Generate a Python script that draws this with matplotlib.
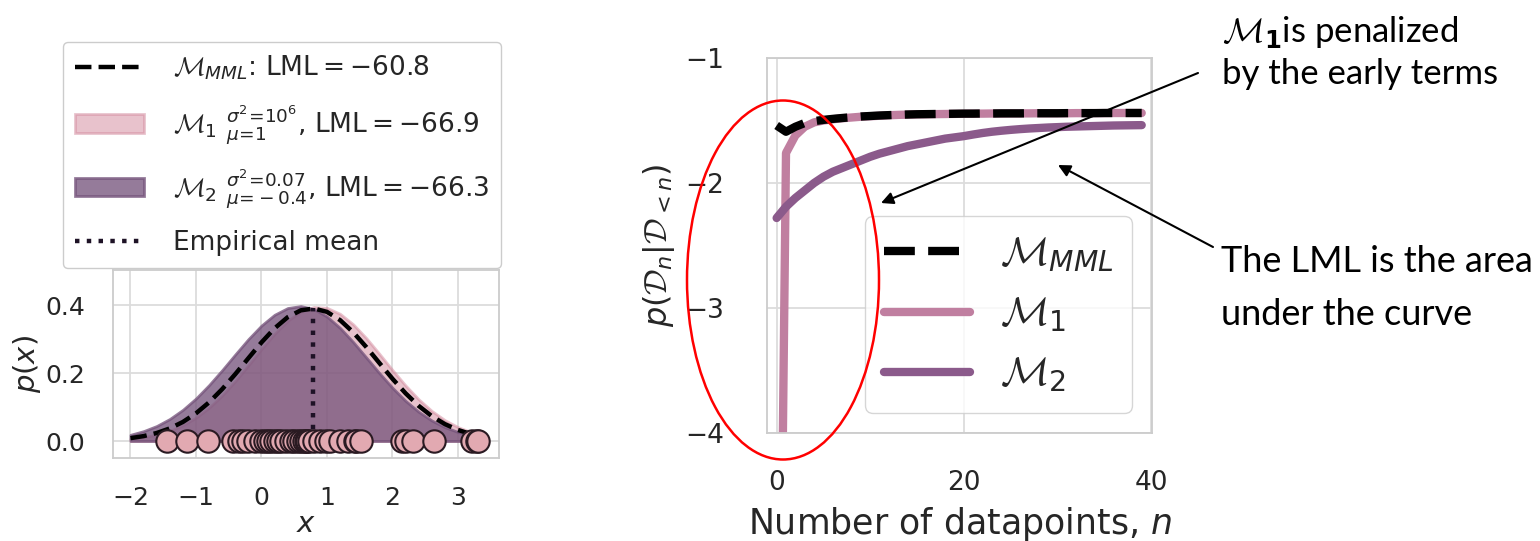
import matplotlib
matplotlib.use("Agg")
import matplotlib.pyplot as plt
from matplotlib.patches import Ellipse, FancyArrowPatch
import numpy as np

# ---------------- data ----------------
x_grid = [-2.0, -1.8, -1.6, -1.4, -1.2, -1.0, -0.8, -0.6, -0.4, -0.2,
          0.0, 0.2, 0.4, 0.6, 0.8, 1.0, 1.2, 1.4, 1.6, 1.8,
          2.0, 2.2, 2.4, 2.6, 2.8, 3.0, 3.2, 3.35]
pdf_mml = [0.0084, 0.0144, 0.0235, 0.0370, 0.0560, 0.0814, 0.1137, 0.1526, 0.1967, 0.2436,
           0.2900, 0.3315, 0.3642, 0.3844, 0.3898, 0.3798, 0.3556, 0.3198, 0.2764, 0.2294,
           0.1830, 0.1403, 0.1033, 0.0731, 0.0497, 0.0324, 0.0204, 0.0140]
pdf_m1 = [0.0064, 0.0112, 0.0187, 0.0300, 0.0464, 0.0688, 0.0980, 0.1341, 0.1763, 0.2229,
          0.2706, 0.3156, 0.3538, 0.3809, 0.3941, 0.3917, 0.3741, 0.3432, 0.3026, 0.2563,
          0.2086, 0.1631, 0.1225, 0.0884, 0.0613, 0.0409, 0.0261, 0.0182]
pdf_m2 = [0.0183, 0.0290, 0.0441, 0.0648, 0.0918, 0.1252, 0.1646, 0.2085, 0.2547, 0.2997,
          0.3398, 0.3714, 0.3911, 0.3969, 0.3882, 0.3659, 0.3324, 0.2909, 0.2454, 0.1995,
          0.1563, 0.1180, 0.0859, 0.0602, 0.0407, 0.0265, 0.0166, 0.0114]
data_x = [-1.45, -1.14, -0.82, -0.43, -0.35, -0.28, -0.2, -0.1, 0.0, 0.05,
          0.1, 0.14, 0.2, 0.25, 0.3, 0.37, 0.45, 0.5, 0.55, 0.6,
          0.65, 0.68, 0.7, 0.72, 0.8, 0.9, 0.98, 1.05, 1.2, 1.32,
          1.42, 1.45, 1.52, 2.14, 2.2, 2.32, 2.63, 3.22, 3.29, 3.3]

n_points = list(range(40))
lpd_mml = [-1.54, -1.59, -1.55, -1.52, -1.505, -1.495, -1.487, -1.48, -1.474, -1.468,
           -1.464, -1.46, -1.457, -1.454, -1.452, -1.45, -1.449, -1.448, -1.447, -1.446,
           -1.445, -1.445, -1.444, -1.444, -1.443, -1.443, -1.443, -1.442, -1.442, -1.442,
           -1.442, -1.441, -1.441, -1.441, -1.441, -1.440, -1.440, -1.440, -1.440, -1.440]
lpd_m1 = [-8.5, -1.76, -1.62, -1.55, -1.515, -1.50, -1.49, -1.482, -1.476, -1.47,
          -1.466, -1.462, -1.458, -1.455, -1.453, -1.451, -1.45, -1.449, -1.448, -1.447,
          -1.446, -1.445, -1.445, -1.444, -1.444, -1.443, -1.443, -1.443, -1.442, -1.442,
          -1.442, -1.442, -1.441, -1.441, -1.441, -1.441, -1.440, -1.440, -1.440, -1.440]
lpd_m2 = [-2.28, -2.19, -2.12, -2.06, -2.00, -1.95, -1.91, -1.88, -1.85, -1.82,
          -1.79, -1.765, -1.745, -1.725, -1.705, -1.69, -1.675, -1.66, -1.645, -1.635,
          -1.625, -1.612, -1.60, -1.59, -1.582, -1.575, -1.569, -1.564, -1.56, -1.556,
          -1.553, -1.55, -1.548, -1.546, -1.544, -1.542, -1.54, -1.539, -1.538, -1.537]

legend_left = [r"$\mathcal{M}_{MML}$: LML$=-$60.8",
               r"$\mathcal{M}_1\ {}^{\sigma^2\!=\!10^6}_{\mu\!=\!1}$, LML$=-$66.9",
               r"$\mathcal{M}_2\ {}^{\sigma^2\!=\!0.07}_{\mu\!=\!-0.4}$, LML$=-$66.3",
               "Empirical mean"]
legend_right = [r"$\mathcal{M}_{MML}$", r"$\mathcal{M}_1$", r"$\mathcal{M}_2$"]

# ---------------- style ----------------
plt.rcParams.update({
    "font.family": ["DejaVu Sans"],
    "mathtext.fontset": "custom",
    "mathtext.rm": "DejaVu Sans",
    "mathtext.it": "DejaVu Sans:italic",
    "mathtext.bf": "DejaVu Sans:bold",
    "mathtext.cal": "cmsy10",
    "axes.edgecolor": "#cccccc",
    "axes.linewidth": 1.3,
    "grid.color": "#dcdcdc",
    "grid.linewidth": 1.3,
    "text.color": "#262626",
    "axes.labelcolor": "#262626",
    "xtick.color": "#262626",
    "ytick.color": "#262626",
    "legend.edgecolor": "#cccccc",
})

c_m1_fill = "#d2879b"
c_m2_fill = "#74527a"
c_m1_line = "#c07fa0"
c_m2_line = "#8b5a8b"
c_pts = "#e2a9b1"

W, H = 1540, 541
fig = plt.figure(figsize=(W / 100, H / 100), dpi=100)

def fx(px):
    return px / W

def fy(py):
    return 1 - py / H

# ---------------- left panel ----------------
ax1 = fig.add_axes([fx(113), fy(458), fx(499) - fx(113), fy(270) - fy(458)])
ax1.set_axisbelow(True)
ax1.grid(True)
emp_mean = float(np.mean(data_x))
h_mean = max(pdf_mml)
ax1.fill_between(x_grid, 0, pdf_m1, color=c_m1_fill, alpha=0.5, lw=2, zorder=2,
                 label=legend_left[1])
ax1.fill_between(x_grid, 0, pdf_m2, color=c_m2_fill, alpha=0.76, lw=2, zorder=2.1,
                 label=legend_left[2])
ax1.plot([emp_mean, emp_mean], [0, h_mean], ls=":", color="#1e1226", lw=3.2, zorder=2.5,
         label=legend_left[3])
ax1.plot(x_grid, pdf_mml, ls="--", color="k", lw=3.2, zorder=3, label=legend_left[0])
ax1.scatter(data_x, np.zeros(len(data_x)), s=260, facecolor=c_pts, edgecolor="#2a1a22",
            linewidth=1.5, zorder=4, clip_on=False)
ax1.set_xlim(-2.267, 3.626)
ax1.set_ylim(-0.05, 0.503)
ax1.set_xticks([-2, -1, 0, 1, 2, 3])
ax1.set_yticks([0.0, 0.2, 0.4])
ax1.set_yticklabels(["0.0", "0.2", "0.4"])
ax1.tick_params(length=0, labelsize=18, pad=20)
ax1.set_xlabel(r"$x$", fontsize=21, labelpad=0)
ax1.set_ylabel(r"$p(x)$", fontsize=21, labelpad=2)
h, l = ax1.get_legend_handles_labels()
order = [3, 0, 1, 2]
leg1 = ax1.legend([h[i] for i in order], [l[i] for i in order], loc="lower center",
                  bbox_to_anchor=(fx(282), fy(268)), bbox_transform=fig.transFigure,
                  fontsize=19, handlelength=2.6, handletextpad=1.1, labelspacing=0.78,
                  borderpad=0.45, borderaxespad=0, framealpha=1.0)

# ---------------- right panel ----------------
ax2 = fig.add_axes([fx(767), fy(433), fx(1152) - fx(767), fy(58) - fy(433)])
ax2.set_axisbelow(True)
ax2.grid(True)
ax2.plot(n_points, lpd_m1, color=c_m1_line, lw=6, zorder=2, label=legend_right[1],
         solid_capstyle="round")
ax2.plot(n_points, lpd_m2, color=c_m2_line, lw=6, zorder=2.1, label=legend_right[2],
         solid_capstyle="round")
ax2.plot(n_points, lpd_mml, color="k", ls="--", lw=6, zorder=3, label=legend_right[0])
ax2.set_xlim(-1.03, 40.1)
ax2.set_ylim(-4, -1)
ax2.set_xticks([0, 20, 40])
ax2.set_yticks([-1, -2, -3, -4])
ax2.tick_params(axis="y", length=0, labelsize=19, pad=31)
ax2.tick_params(axis="x", length=0, labelsize=19, pad=27)
ax2.set_xlabel(r"Number of datapoints, $n$", fontsize=25, labelpad=6)
ax2.set_ylabel(r"$p(\mathcal{D}_n|\mathcal{D}_{<n})$", fontsize=23, labelpad=6)
h2, l2 = ax2.get_legend_handles_labels()
order2 = [2, 0, 1]
ax2.legend([h2[i] for i in order2], [l2[i] for i in order2], loc="lower right",
           fontsize=29, handlelength=2.15, handletextpad=0.75, labelspacing=0.5,
           borderpad=0.45, borderaxespad=0.5)

# ---------------- annotations ----------------
ell = Ellipse((fx(783), fy(280)), fx(192), 359 / H, transform=fig.transFigure,
              fill=False, edgecolor="red", lw=1.8, zorder=10)
fig.add_artist(ell)

for (x0, y0), (x1, y1) in [((1198, 73), (881, 203)), ((1213, 247), (1058, 165))]:
    arr = FancyArrowPatch((fx(x0), fy(y0)), (fx(x1), fy(y1)), transform=fig.transFigure,
                          arrowstyle="-|>", mutation_scale=18, lw=1.5, color="k",
                          shrinkA=0, shrinkB=0, zorder=11)
    fig.add_artist(arr)

fig.text(fx(1222), fy(42), r"$\mathcal{M}_{\mathbf{1}}$is penalized", fontsize=25,
         family="Lato", color="k", va="baseline", ha="left")
fig.text(fx(1222), fy(84), "by the early terms", fontsize=25,
         family="Lato", color="k", va="baseline", ha="left")
fig.text(fx(1221), fy(272), "The LML is the area", fontsize=26,
         family="Lato", color="k", va="baseline", ha="left")
fig.text(fx(1221), fy(325), "under the curve", fontsize=26,
         family="Lato", color="k", va="baseline", ha="left")

fig.savefig("out.png", dpi=100, facecolor="white")
